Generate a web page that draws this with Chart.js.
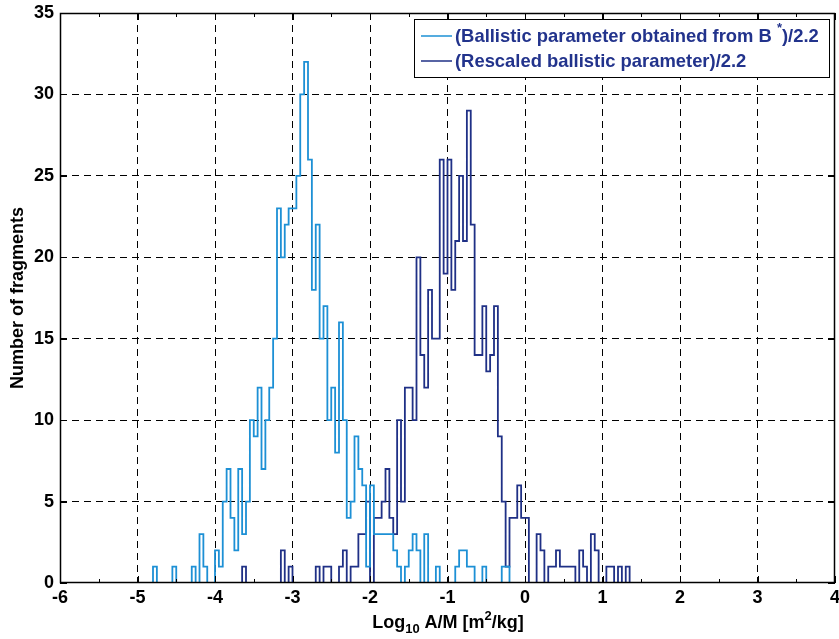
<!DOCTYPE html>
<html lang="en">
  <head>
    <meta charset="UTF-8" />
    <title>A/M distribution</title>
    <style>
      html,
      body {
        margin: 0;
        padding: 0;
        background: #fff;
      }
      #wrap {
        width: 839px;
        height: 639px;
        position: relative;
      }
    </style>
  </head>
  <body>
    <div id="wrap"><canvas id="myChart"></canvas></div>
    <script src="https://cdn.jsdelivr.net/npm/chart.js@4.4.1/dist/chart.umd.min.js"></script>
    <script>
      // histogram bins: first edge, width, and where the outline ends
      const binStart = -5;
      const binWidth = 0.05;
      const xEnd = 4;

      const xTicks = [-6, -5, -4, -3, -2, -1, 0, 1, 2, 3, 4];
      const yTicks = [0, 5, 10, 15, 20, 25, 30, 35];

      const seriesLabels = [
        "(Ballistic parameter obtained from B*)/2.2",
        "(Rescaled ballistic parameter)/2.2",
      ];

      // counts per bin, starting at -5.00
      const ballisticFromB = [
        0, 0, 0, 0, 1, 0, 0, 0, 0, 1, // -5.00 .. -4.55
        0, 0, 0, 0, 1, 0, 3, 1, 0, 0, // -4.50 .. -4.05
        2, 1, 5, 7, 4, 2, 7, 3, 5, 10, // -4.00 .. -3.55
        9, 12, 7, 10, 12, 15, 23, 20, 22, 23, // -3.50 .. -3.05
        23, 25, 30, 32, 26, 18, 22, 15, 17, 10, // -3.00 .. -2.55
        12, 8, 16, 10, 4, 5, 9, 7, 6, 1, // -2.50 .. -2.05
        6, 3, 3, 3, 3, 3, 2, 1, 0, 1, // -2.00 .. -1.55
        2, 3, 2, 0, 3, 0, 0, 1, 0, 0, // -1.50 .. -1.05
        0, 0, 1, 2, 2, 1, 1, 0, 0, 1, // -1.00 .. -0.55
        0, 0, 0, 0, 1, 1, // -0.50 .. -0.25
      ];

      const rescaled = [
        0, 0, 0, 0, 0, 0, 0, 0, 0, 0, // -5.00 .. -4.55
        0, 0, 0, 0, 0, 0, 0, 0, 0, 0, // -4.50 .. -4.05
        0, 0, 0, 0, 0, 0, 0, 1, 0, 0, // -4.00 .. -3.55
        0, 0, 0, 0, 0, 0, 0, 2, 0, 1, // -3.50 .. -3.05
        0, 0, 0, 0, 0, 0, 1, 0, 1, 1, // -3.00 .. -2.55
        0, 0, 1, 2, 0, 1, 1, 3, 3, 5, // -2.50 .. -2.05
        0, 4, 4, 5, 7, 4, 3, 10, 5, 12, // -2.00 .. -1.55
        12, 10, 20, 14, 12, 18, 15, 15, 26, 19, // -1.50 .. -1.05
        26, 18, 21, 25, 21, 29, 22, 14, 14, 17, // -1.00 .. -0.55
        13, 14, 17, 9, 5, 1, 4, 4, 6, 4, // -0.50 .. -0.05
        4, 0, 0, 3, 2, 0, 1, 1, 2, 1, // 0.00 .. 0.45
        1, 1, 1, 0, 2, 1, 0, 3, 2, 0, // 0.50 .. 0.95
        0, 1, 1, 0, 1, 0, 1, // 1.00 .. 1.30
      ];

      const lightBlue = "#1d90d5";
      const darkBlue = "#1f3086";
      const legendText = "#22338c";
      const fontFamily = "'Liberation Sans', Arial, sans-serif";

      function toSteps(counts) {
        const pts = counts.map((c, i) => ({ x: binStart + i * binWidth, y: c }));
        pts.push({ x: binStart + counts.length * binWidth, y: 0 });
        pts.push({ x: xEnd, y: 0 });
        return pts;
      }

      // text with sup / sub pieces, drawn left to right
      function drawRich(ctx, parts, x, y, size) {
        let cx = x;
        parts.forEach((p) => {
          const s = p.sub || p.sup ? Math.round(size * 0.7) : size;
          ctx.font = "bold " + s + "px " + fontFamily;
          const dy = p.sub ? size * 0.3 : p.sup ? -size * 0.45 : 0;
          ctx.fillText(p.t, cx, y + dy);
          cx += ctx.measureText(p.t).width;
        });
        return cx - x;
      }
      function richWidth(ctx, parts, size) {
        let w = 0;
        parts.forEach((p) => {
          const s = p.sub || p.sup ? Math.round(size * 0.7) : size;
          ctx.font = "bold " + s + "px " + fontFamily;
          w += ctx.measureText(p.t).width;
        });
        return w;
      }
      function labelParts(label) {
        // a "*" in a label is drawn as a superscript
        const i = label.indexOf("*");
        if (i < 0) return [{ t: label }];
        return [{ t: label.slice(0, i) + " " }, { t: "*", sup: true }, { t: label.slice(i + 1) }];
      }

      const decor = {
        id: "decor",
        afterDatasetsDraw(chart) {
          const { ctx, chartArea: a, scales } = chart;
          const x = scales.x;
          const y = scales.y;
          ctx.save();
          ctx.strokeStyle = "#000";
          ctx.lineWidth = 1;
          ctx.setLineDash([]);
          // inward ticks on all four sides
          ctx.beginPath();
          for (let v = xTicks[0]; v <= xTicks[xTicks.length - 1]; v += 0.5) {
            const px = Math.round(x.getPixelForValue(v)) + 0.5;
            const len = Number.isInteger(v) ? 7 : 4;
            ctx.moveTo(px, a.bottom);
            ctx.lineTo(px, a.bottom - len);
            ctx.moveTo(px, a.top);
            ctx.lineTo(px, a.top + len);
          }
          yTicks.forEach((v) => {
            const py = Math.round(y.getPixelForValue(v)) + 0.5;
            ctx.moveTo(a.left, py);
            ctx.lineTo(a.left + 7, py);
            ctx.moveTo(a.right, py);
            ctx.lineTo(a.right - 7, py);
          });
          ctx.stroke();
          ctx.lineWidth = 1.5;
          ctx.strokeRect(Math.round(a.left) + 0.5, Math.round(a.top) + 0.5, Math.round(a.width) - 1, Math.round(a.height) - 1);

          // legend box
          const lx = 414.5,
            ly = 19.5,
            lw = 415,
            lh = 58;
          ctx.fillStyle = "#fff";
          ctx.fillRect(lx, ly, lw, lh);
          ctx.lineWidth = 1;
          ctx.strokeStyle = "#000";
          ctx.strokeRect(lx, ly, lw, lh);
          const colors = [lightBlue, darkBlue];
          seriesLabels.forEach((lab, i) => {
            const cy = 36 + i * 25;
            ctx.strokeStyle = colors[i];
            ctx.lineWidth = 1.5;
            ctx.beginPath();
            ctx.moveTo(421, cy);
            ctx.lineTo(452, cy);
            ctx.stroke();
            ctx.fillStyle = legendText;
            ctx.textBaseline = "middle";
            ctx.textAlign = "left";
            drawRich(ctx, labelParts(lab), 455, cy + 1, 18.4);
          });

          // axis titles
          ctx.fillStyle = "#000";
          ctx.textBaseline = "alphabetic";
          ctx.textAlign = "left";
          const xt = [{ t: "Log" }, { t: "10", sub: true }, { t: " A/M [m" }, { t: "2", sup: true }, { t: "/kg]" }];
          const w = richWidth(ctx, xt, 18);
          drawRich(ctx, xt, 448 - w / 2, 628, 18);

          ctx.translate(18, (a.top + a.bottom) / 2);
          ctx.rotate(-Math.PI / 2);
          ctx.textAlign = "center";
          ctx.textBaseline = "middle";
          ctx.font = "bold 18px " + fontFamily;
          ctx.fillText("Number of fragments", 0, 0);
          ctx.restore();
        },
      };

      const gridColor = (c) =>
        c.tick && (c.tick.value === c.scale.min || c.tick.value === c.scale.max) ? "rgba(0,0,0,0)" : "#000";

      const ctx = document.getElementById("myChart").getContext("2d");
      new Chart(ctx, {
        type: "line",
        data: {
          datasets: [
            {
              label: seriesLabels[0],
              data: toSteps(ballisticFromB),
              borderColor: lightBlue,
              borderWidth: 1.8,
              stepped: "before",
              pointRadius: 0,
              fill: false,
            },
            {
              label: seriesLabels[1],
              data: toSteps(rescaled),
              borderColor: darkBlue,
              borderWidth: 1.8,
              stepped: "before",
              pointRadius: 0,
              fill: false,
            },
          ],
        },
        options: {
          responsive: true,
          maintainAspectRatio: false,
          animation: false,
          layout: { padding: { top: 13, right: 4, left: 0, bottom: 0 } },
          plugins: {
            legend: { display: false },
            tooltip: { enabled: false },
          },
          scales: {
            x: {
              type: "linear",
              min: xTicks[0],
              max: xTicks[xTicks.length - 1],
              afterBuildTicks: (s) => {
                s.ticks = xTicks.map((v) => ({ value: v }));
              },
              afterFit: (s) => {
                s.height = 56;
                s.paddingLeft = 0;
                s.paddingRight = 0;
              },
              ticks: {
                color: "#000",
                padding: 4,
                font: { size: 18, weight: "bold", family: fontFamily },
              },
              grid: { color: gridColor, lineWidth: 1, drawTicks: false },
              border: { display: false, dash: [7, 5] },
            },
            y: {
              min: yTicks[0],
              max: yTicks[yTicks.length - 1],
              afterBuildTicks: (s) => {
                s.ticks = yTicks.map((v) => ({ value: v }));
              },
              afterFit: (s) => {
                s.width = 60;
                s.paddingTop = 0;
                s.paddingBottom = 0;
              },
              ticks: {
                color: "#000",
                padding: 6,
                font: { size: 18, weight: "bold", family: fontFamily },
              },
              grid: { color: gridColor, lineWidth: 1, drawTicks: false },
              border: { display: false, dash: [7, 5] },
            },
          },
        },
        plugins: [decor],
      });
    </script>
  </body>
</html>
